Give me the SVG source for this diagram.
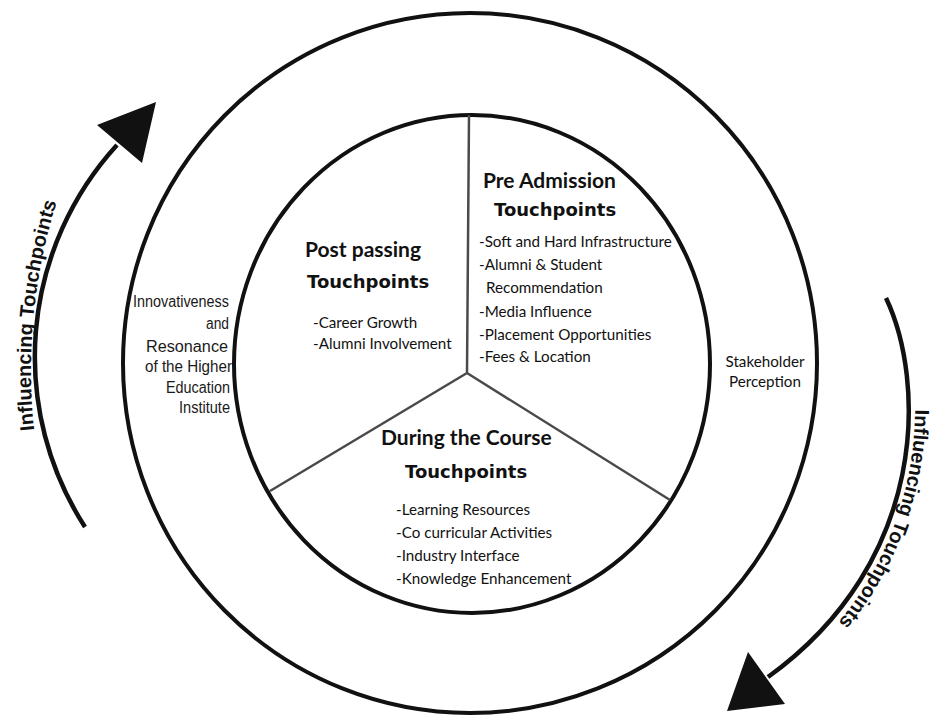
<svg xmlns="http://www.w3.org/2000/svg" width="936" height="716" viewBox="0 0 936 716">
<style>
.ring{fill:none;stroke:#111;stroke-width:4}
.div{fill:none;stroke:#4a4a4a;stroke-width:2.5}
.arc{fill:none;stroke:#111;stroke-width:4.5}
.head{fill:#111}
.h{font-family:Lato,"Open Sans",sans-serif;font-weight:bold;font-size:21px;fill:#111}
.tp{font-family:"DejaVu Sans",Verdana,sans-serif;font-weight:bold;font-size:18px;fill:#111}
.li{font-family:Lato,"Open Sans",sans-serif;font-size:15.2px;fill:#111}
.lab{font-family:"Liberation Sans",Arial,sans-serif;font-size:16px;fill:#1a1a1a}
.inf{font-family:"Liberation Sans",Arial,sans-serif;font-weight:bold;font-size:20px;fill:#111}
</style>
<defs>
<path id="pl" d="M 36.7 450 A 562 562 0 0 1 64.1 180"/>
<path id="pr" d="M 893 294.6 C 932 376.5, 934.7 566.5, 772.7 683.5"/>
</defs>
<rect width="936" height="716" fill="#fff"/>
<g id="outer-ring">
<ellipse class="ring" cx="470" cy="363" rx="347" ry="350"/>
</g>
<g id="inner-circle">
<ellipse class="ring" cx="472" cy="364" rx="238" ry="249"/>
<path class="div" d="M467 373 L469 115 M467 373 L270 491 M467 373 L670 500"/>
</g>
<g id="pre-admission">
<text class="h" x="483" y="188">Pre Admission</text>
<text class="tp" x="494" y="216">Touchpoints</text>
<text class="li" x="479" y="247">-Soft and Hard Infrastructure</text>
<text class="li" x="479" y="270">-Alumni &amp; Student</text>
<text class="li" x="486" y="293">Recommendation</text>
<text class="li" x="479" y="317">-Media Influence</text>
<text class="li" x="479" y="340">-Placement Opportunities</text>
<text class="li" x="479" y="362">-Fees &amp; Location</text>
</g>
<g id="post-passing">
<text class="h" x="305" y="257">Post passing</text>
<text class="tp" x="307" y="288">Touchpoints</text>
<text class="li" x="313" y="328">-Career Growth</text>
<text class="li" x="313" y="349">-Alumni Involvement</text>
</g>
<g id="during-course">
<text class="h" x="381" y="445">During the Course</text>
<text class="tp" x="405" y="478">Touchpoints</text>
<text class="li" x="396" y="515">-Learning Resources</text>
<text class="li" x="396" y="538">-Co curricular Activities</text>
<text class="li" x="396" y="561">-Industry Interface</text>
<text class="li" x="396" y="584">-Knowledge Enhancement</text>
</g>
<g id="innovativeness">
<text class="lab" x="133" y="307" textLength="96" lengthAdjust="spacingAndGlyphs">Innovativeness</text>
<text class="lab" x="206" y="329" textLength="23" lengthAdjust="spacingAndGlyphs">and</text>
<text class="lab" x="146" y="352" textLength="82" lengthAdjust="spacingAndGlyphs">Resonance</text>
<text class="lab" x="145" y="372" textLength="87" lengthAdjust="spacingAndGlyphs">of the Higher</text>
<text class="lab" x="166" y="393" textLength="64" lengthAdjust="spacingAndGlyphs">Education</text>
<text class="lab" x="179" y="413" textLength="51" lengthAdjust="spacingAndGlyphs">Institute</text>
</g>
<g id="stakeholder">
<text class="li" text-anchor="middle" x="765" y="367" font-size="16">Stakeholder</text>
<text class="li" text-anchor="middle" x="765" y="387" font-size="16">Perception</text>
</g>
<g id="connectors">
<path class="arc" d="M 85 527 A 314 314 0 0 1 117 145"/>
<polygon class="head" points="156,102 97,125 142,163"/>
<path class="arc" d="M 886 298 C 925 380, 930 560, 768 677"/>
<polygon class="head" points="727,711 748,652 785,704"/>
<text class="inf"><textPath href="#pl" startOffset="20">Influencing Touchpoints</textPath></text>
<text class="inf"><textPath href="#pr" startOffset="118">Influencing Touchpoints</textPath></text>
</g>
</svg>
